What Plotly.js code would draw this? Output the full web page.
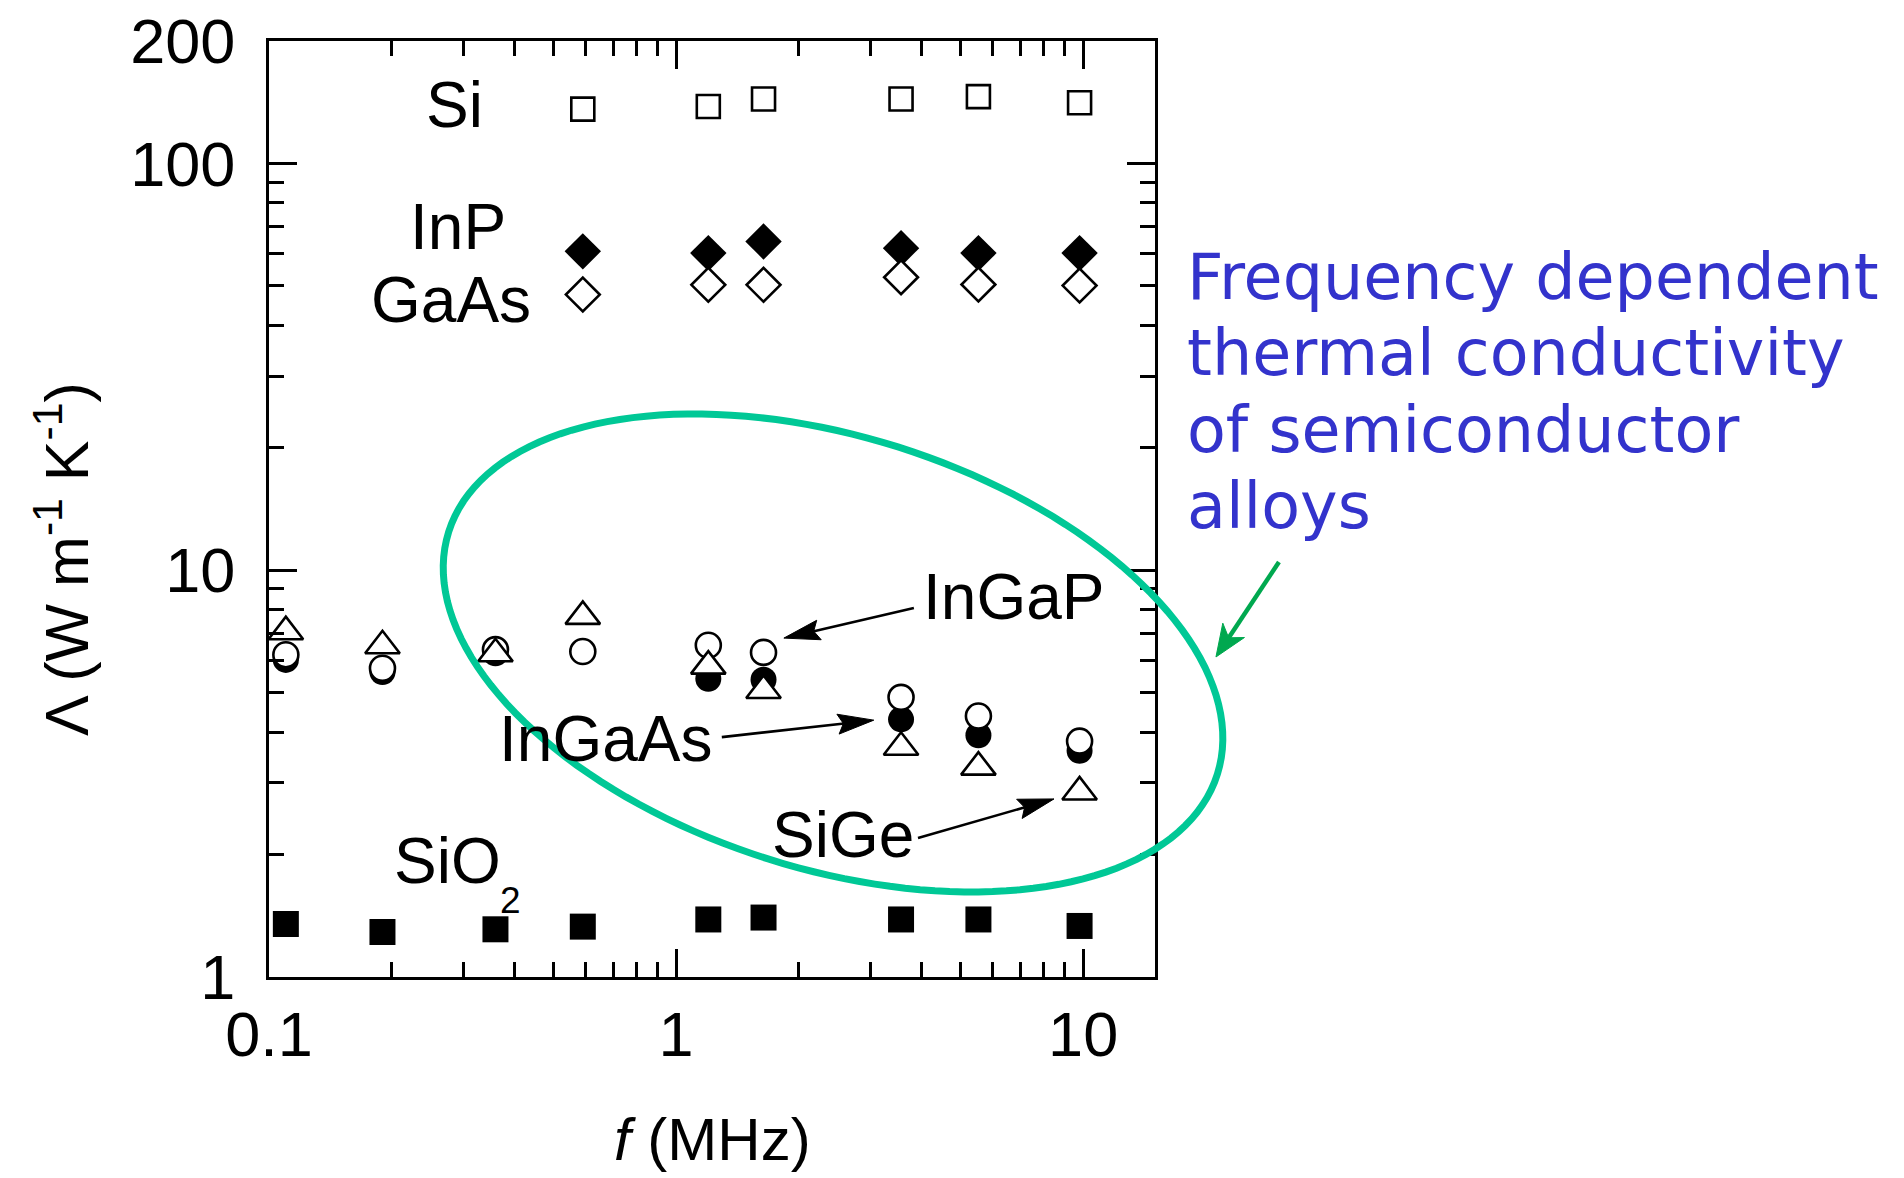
<!DOCTYPE html>
<html>
<head>
<meta charset="utf-8">
<script src="https://cdn.plot.ly/plotly-3.0.1.min.js"></script>
<style>
  html, body { margin: 0; padding: 0; background: #ffffff; }
  #chart { width: 1904px; height: 1178px; }
</style>
</head>
<body>
<div id="chart"></div>
<script>
// Modulation frequency f (MHz)
const freq = [0.11, 0.19, 0.36, 0.59, 1.2, 1.64, 3.57, 5.53, 9.8];

// Thermal conductivity Λ (W m^-1 K^-1) for each material
const si     = [null, null, null, 136, 138, 144, 144, 146, 141];
const inp    = [null, null, null, 60.8, 60.2, 64.3, 61.9, 60.2, 60.2];
const gaas   = [null, null, null, 47.6, 50.3, 50.3, 52.5, 50.4, 50.1];
const sio2   = [1.35, 1.29, 1.31, 1.33, 1.385, 1.40, 1.385, 1.385, 1.335];
const ingap  = [6.2, 5.74, 6.38, 6.31, 6.54, 6.28, 4.87, 4.38, 3.80];
const ingaas = [6.02, 5.62, 6.25, null, 5.41, 5.38, 4.30, 3.93, 3.60];
const sige   = [7.06, 6.52, 6.23, 7.70, 5.81, 5.06, 3.67, 3.28, 2.85];

// Axis ticks
const xTicks = [0.1, 1, 10];
const xTickText = ['0.1', '1', '10'];
const xMinor = [0.2, 0.3, 0.4, 0.5, 0.6, 0.7, 0.8, 0.9, 2, 3, 4, 5, 6, 7, 8, 9];
const yTicks = [1, 10, 100, 200];
const yTickText = ['1', '10', '100', '200'];
const yMinor = [2, 3, 4, 5, 6, 7, 8, 9, 20, 30, 40, 50, 60, 70, 80, 90];

const X_RANGE = [-1, 1.1765];
const Y_RANGE = [0, Math.log10(200)];

const SANS = 'Liberation Sans, Arial, Helvetica, sans-serif';
const lg = Math.log10;

function series(name, y, symbol, size, fill, lineWidth) {
  return {
    type: 'scatter', mode: 'markers', name: name,
    x: freq, y: y,
    marker: { symbol: symbol, size: size, color: fill,
              line: { color: '#000000', width: lineWidth } },
    hoverinfo: 'x+y+name'
  };
}

// Drawing order: filled alloy circles under the open markers
const traces = [
  series('Si', si, 'square', 23, '#ffffff', 2.6),
  series('InP', inp, 'diamond', 28, '#000000', 0),
  series('GaAs', gaas, 'diamond', 26, '#ffffff', 2.6),
  series('SiO2', sio2, 'square', 26, '#000000', 0),
  series('InGaAs', ingaas, 'circle', 26, '#000000', 0),
  series('InGaP', ingap, 'circle', 25, '#ffffff', 2.6),
  series('SiGe', sige, 'triangle-up', 30, '#ffffff', 2.6)
];

// data value -> paper fraction
function toPaper(f, v) {
  return [(lg(f) - X_RANGE[0]) / (X_RANGE[1] - X_RANGE[0]),
          (lg(v) - Y_RANGE[0]) / (Y_RANGE[1] - Y_RANGE[0])];
}

// Arrow drawn as two pixel-sized shapes anchored at its tip.
// dx, dy: tail offset from the tip in screen pixels (y pointing down).
function arrow(tip, dx, dy, opt) {
  const len = Math.hypot(dx, dy);
  const ux = dx / len, uy = dy / len, px = -uy, py = ux;
  const bx = ux * opt.head, by = uy * opt.head;
  const k = opt.notch || 1;
  const nx = bx * k, ny = by * k;
  const P = (x, y) => x.toFixed(2) + ',' + (-y).toFixed(2);
  const base = { type: 'path', xref: 'paper', yref: 'paper',
                 xsizemode: 'pixel', ysizemode: 'pixel',
                 xanchor: tip[0], yanchor: tip[1], layer: 'above' };
  return [
    Object.assign({}, base, {
      path: 'M' + P(dx, dy) + 'L' + P(nx * 0.9, ny * 0.9),
      line: { color: opt.color, width: opt.width }
    }),
    Object.assign({}, base, {
      path: 'M' + P(0, 0) + 'L' + P(bx + px * opt.half, by + py * opt.half) +
            'L' + P(nx, ny) + 'L' + P(bx - px * opt.half, by - py * opt.half) + 'Z',
      fillcolor: opt.color, line: { color: opt.color, width: 1 }
    })
  ];
}

// Tilted ellipse around the alloy data, semi-axes in pixels
function ellipse(center, a, b, deg, color, width) {
  const t0 = deg * Math.PI / 180, c = Math.cos(t0), s = Math.sin(t0);
  let d = '';
  const n = 160;
  for (let i = 0; i <= n; i++) {
    const t = 2 * Math.PI * i / n;
    const x = a * Math.cos(t) * c - b * Math.sin(t) * s;
    const y = a * Math.cos(t) * s + b * Math.sin(t) * c;
    d += (i === 0 ? 'M' : 'L') + x.toFixed(2) + ',' + (-y).toFixed(2);
  }
  d += 'Z';
  return { type: 'path', xref: 'paper', yref: 'paper',
           xsizemode: 'pixel', ysizemode: 'pixel',
           xanchor: center[0], yanchor: center[1],
           path: d, line: { color: color, width: width }, layer: 'above' };
}

const blackArrow = { color: '#000000', width: 2.6, head: 36, half: 10, notch: 0.85 };
const shapes = [
  ellipse([0.6366, 0.3462], 403, 216, 17.5, '#00c896', 7),
  ...arrow(toPaper(1.84, 6.81), 130, -30, blackArrow),
  ...arrow(toPaper(3.06, 4.28), -152, 17, blackArrow),
  ...arrow(toPaper(8.48, 2.74), -136, 39, blackArrow),
  ...arrow([1.0688, 0.3419], 63, -95, { color: '#00a84f', width: 4.5, head: 32, half: 13, notch: 0.72 })
];

function label(text, f, v, size) {
  return { text: text, x: lg(f), y: lg(v), xref: 'x', yref: 'y',
           showarrow: false, xanchor: 'center', yanchor: 'middle',
           font: { family: SANS, size: size || 64, color: '#000000' } };
}

function note(text, y) {
  return { text: text, x: 1.0339, y: y, xref: 'paper', yref: 'paper',
           showarrow: false, xanchor: 'left', yanchor: 'middle',
           font: { family: 'DejaVu Sans, Verdana, sans-serif', size: 63.5, color: '#3333cc' } };
}

const annotations = [
  label('Si', 0.286, 139.2),
  label('InP', 0.2905, 69.6),
  label('GaAs', 0.2797, 46.2),
  label('SiO', 0.2737, 1.929),
  label('2', 0.391, 1.546, 37),
  label('InGaP', 6.76, 8.57),
  label('InGaAs', 0.669, 3.846),
  label('SiGe', 2.57, 2.234),
  note('Frequency dependent', 0.7479),
  note('thermal conductivity', 0.6667),
  note('of semiconductor', 0.5844),
  note('alloys', 0.5032),
  { text: 'Λ (W m<sup>-1</sup> K<sup>-1</sup>)', textangle: -90,
    x: -0.2335, y: 0.4466, xref: 'paper', yref: 'paper',
    showarrow: false, xanchor: 'center', yanchor: 'middle',
    font: { family: SANS, size: 61, color: '#000000' } },
  { text: '<i>f</i> (MHz)', x: 0.5011, y: -0.1741, xref: 'paper', yref: 'paper',
    showarrow: false, xanchor: 'center', yanchor: 'middle',
    font: { family: SANS, size: 60, color: '#000000' } }
];

function axis(range, tickvals, ticktext, minorvals, standoff) {
  return {
    type: 'log', range: range, autorange: false, fixedrange: true,
    tickmode: 'array', tickvals: tickvals, ticktext: ticktext,
    ticks: 'inside', ticklen: 28, tickwidth: 3, tickcolor: '#000000',
    showline: true, linewidth: 3, linecolor: '#000000', mirror: 'ticks',
    showgrid: false, zeroline: false,
    ticklabelstandoff: standoff,
    tickfont: { family: SANS, size: 63, color: '#000000' },
    minor: { tickmode: 'array', tickvals: minorvals, ticks: 'inside',
             ticklen: 15, tickwidth: 3, tickcolor: '#000000', showgrid: false }
  };
}

const layout = {
  width: 1904, height: 1178,
  margin: { l: 269, r: 749, t: 41, b: 201, pad: 0 },
  paper_bgcolor: '#ffffff', plot_bgcolor: '#ffffff',
  showlegend: false,
  font: { family: SANS, color: '#000000' },
  xaxis: axis(X_RANGE, xTicks, xTickText, xMinor, 0),
  yaxis: axis(Y_RANGE, yTicks, yTickText, yMinor, 18),
  shapes: shapes,
  annotations: annotations
};

Plotly.newPlot('chart', traces, layout, { staticPlot: true, displayModeBar: false });
</script>
</body>
</html>
